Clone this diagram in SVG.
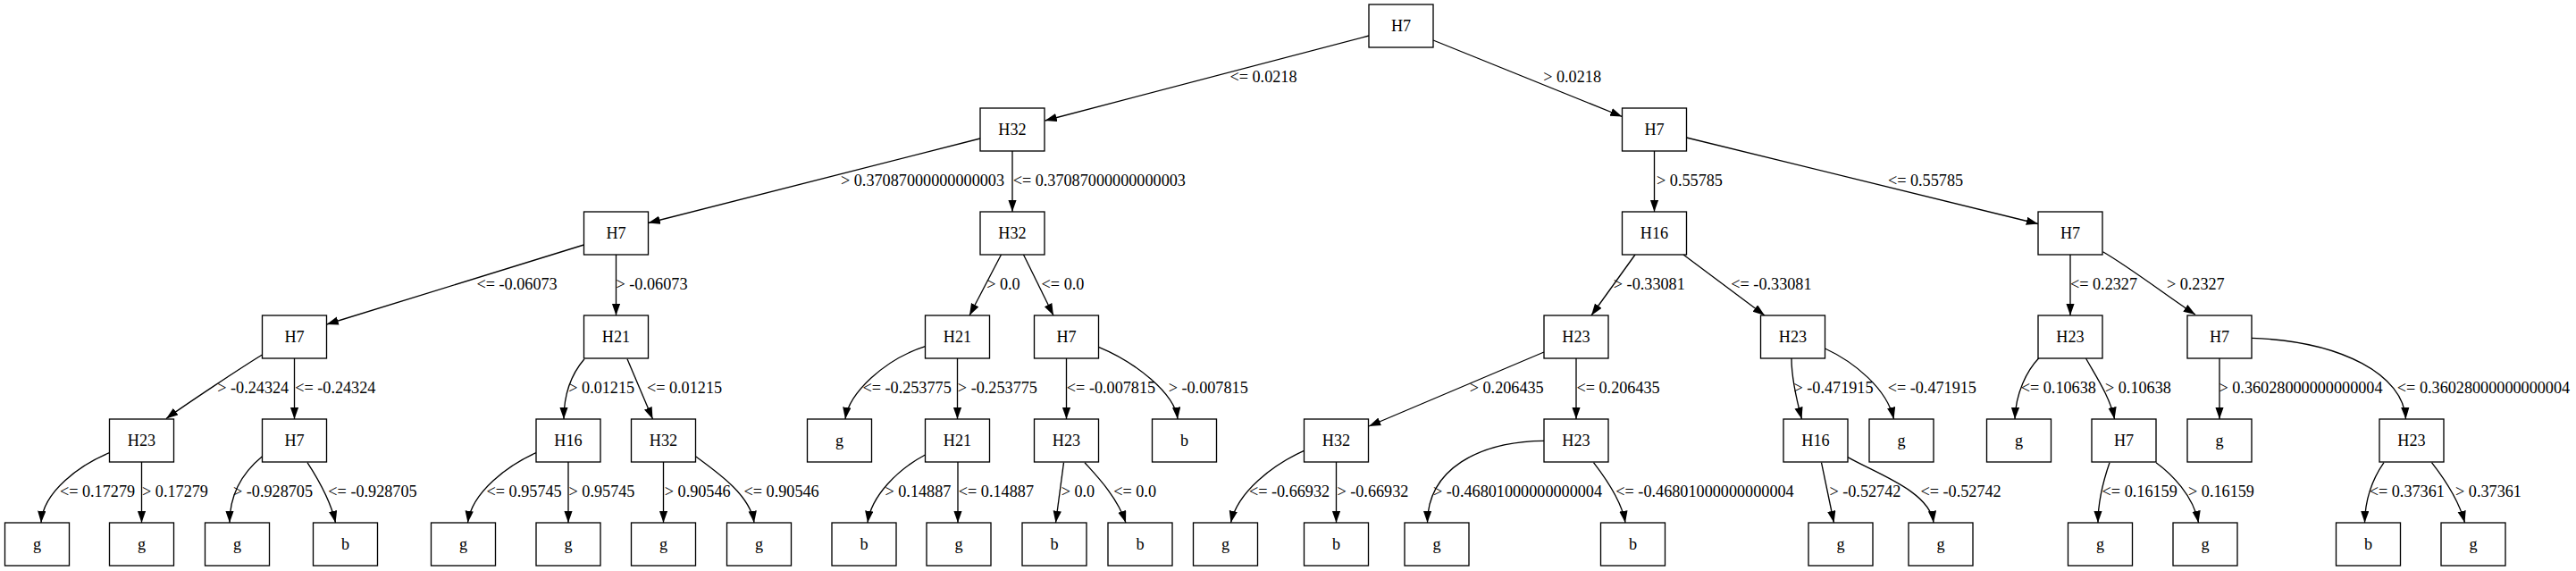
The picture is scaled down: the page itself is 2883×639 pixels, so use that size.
<svg xmlns="http://www.w3.org/2000/svg" width="2883" height="639" viewBox="0 0 2883 639">
<style>
text{font-family:"Liberation Serif","Times New Roman",serif;font-size:18.2px;fill:#000;text-anchor:middle}
.n rect{fill:#fff;stroke:#000;stroke-width:1.33}
.e path{fill:none;stroke:#000;stroke-width:1.33;marker-end:url(#a)}
</style>
<defs>
<marker id="a" markerUnits="userSpaceOnUse" markerWidth="14" markerHeight="10" refX="13.3" refY="4.67" orient="auto" viewBox="0 0 14 10"><path d="M0,0 L13.3,4.67 L0,9.33 z" fill="#000"/></marker>
</defs>
<rect x="0" y="0" width="2883" height="639" fill="#fff"/>
<g id="connectors" class="e">
<g><path d="M1532,40 L1169.5,135"/><text x="1414" y="92">&lt;= 0.0218</text></g>
<g><path d="M1604,45 L1815.5,130.5"/><text x="1759.6" y="92">&gt; 0.0218</text></g>
<g><path d="M1097,155 L725.5,249.5"/><text x="1032.5" y="208">&gt; 0.37087000000000003</text></g>
<g><path d="M1133,169 L1133,237"/><text x="1230.3" y="208">&lt;= 0.37087000000000003</text></g>
<g><path d="M1851.5,169 L1851.5,237"/><text x="1891" y="208">&gt; 0.55785</text></g>
<g><path d="M1887.5,154 L2281,250.5"/><text x="2155" y="208">&lt;= 0.55785</text></g>
<g><path d="M653.5,274 L365.5,363"/><text x="578.6" y="324">&lt;= -0.06073</text></g>
<g><path d="M689.5,285 L689.5,353"/><text x="729.5" y="324">&gt; -0.06073</text></g>
<g><path d="M1120.5,285 L1085,353"/><text x="1122.9" y="324">&gt; 0.0</text></g>
<g><path d="M1145.5,285 L1179,353"/><text x="1189.5" y="324">&lt;= 0.0</text></g>
<g><path d="M1830,285 L1781,353"/><text x="1845.8" y="324">&gt; -0.33081</text></g>
<g><path d="M1884,285 L1975,353"/><text x="1982.4" y="324">&lt;= -0.33081</text></g>
<g><path d="M2317,285 L2317,353"/><text x="2354.5" y="324">&lt;= 0.2327</text></g>
<g><path d="M2353.5,281.7 C2385,300 2432,336 2457,352"/><text x="2457.3" y="324">&gt; 0.2327</text></g>
<g><path d="M293.5,397 C272,410 205,454.5 186,468.5"/><text x="283.2" y="440">&gt; -0.24324</text></g>
<g><path d="M329.5,401 L329.5,469"/><text x="375.3" y="440">&lt;= -0.24324</text></g>
<g><path d="M654,401.7 C640,418 631,440 631,469"/><text x="673.2" y="440">&gt; 0.01215</text></g>
<g><path d="M702,401.7 L730.5,469"/><text x="766" y="440">&lt;= 0.01215</text></g>
<g><path d="M1035.5,387.7 C990,402 950,440 946,469"/><text x="1015.1" y="440">&lt;= -0.253775</text></g>
<g><path d="M1071.5,401 L1071.5,469"/><text x="1116.4" y="440">&gt; -0.253775</text></g>
<g><path d="M1193.5,401 L1193.5,469"/><text x="1243.5" y="440">&lt;= -0.007815</text></g>
<g><path d="M1229.5,388.3 C1270,405 1315,440 1318,469"/><text x="1352.2" y="440">&gt; -0.007815</text></g>
<g><path d="M1728,394 L1532,477"/><text x="1686.2" y="440">&gt; 0.206435</text></g>
<g><path d="M1764,401 L1764,469"/><text x="1811.1" y="440">&lt;= 0.206435</text></g>
<g><path d="M2005,401 C2005,420 2010,445 2016.5,469"/><text x="2052" y="440">&gt; -0.471915</text></g>
<g><path d="M2042.5,390 C2075,405 2112,435 2119.5,469"/><text x="2162.3" y="440">&lt;= -0.471915</text></g>
<g><path d="M2282.5,400 C2268,415 2256,440 2255,469"/><text x="2303.8" y="440">&lt;= 0.10638</text></g>
<g><path d="M2334.5,401 C2345,420 2362,445 2366.5,469"/><text x="2392.9" y="440">&gt; 0.10638</text></g>
<g><path d="M2484,401 L2484,469"/><text x="2575" y="440">&gt; 0.36028000000000004</text></g>
<g><path d="M2520,378.3 C2622,382 2690,420 2692.5,469"/><text x="2779.5" y="440">&lt;= 0.36028000000000004</text></g>
<g><path d="M122.5,506.7 C90,520 48,550 46,585"/><text x="109" y="556">&lt;= 0.17279</text></g>
<g><path d="M158.5,517 L158.5,585"/><text x="196" y="556">&gt; 0.17279</text></g>
<g><path d="M293.5,510.7 C270,530 257,555 257,585"/><text x="305.5" y="556">&gt; -0.928705</text></g>
<g><path d="M344,517.7 C352,530 370,560 375.5,585"/><text x="417" y="556">&lt;= -0.928705</text></g>
<g><path d="M600,506.7 C570,520 528,550 523.5,585"/><text x="586.6" y="556">&lt;= 0.95745</text></g>
<g><path d="M636,517 L636,585"/><text x="673.5" y="556">&gt; 0.95745</text></g>
<g><path d="M742.5,517 L742.5,585"/><text x="780.7" y="556">&gt; 0.90546</text></g>
<g><path d="M778.5,510.7 C805,530 840,555 844,585"/><text x="874.6" y="556">&lt;= 0.90546</text></g>
<g><path d="M1035.5,509 C1005,525 975,555 971,585"/><text x="1027.4" y="556">&gt; 0.14887</text></g>
<g><path d="M1072,517 L1072,585"/><text x="1114.9" y="556">&lt;= 0.14887</text></g>
<g><path d="M1190.5,517.7 L1181.5,585"/><text x="1206.4" y="556">&gt; 0.0</text></g>
<g><path d="M1214,517.7 C1225,530 1250,555 1260,585"/><text x="1270.1" y="556">&lt;= 0.0</text></g>
<g><path d="M1459.5,504.3 C1425,520 1385,550 1377.5,585"/><text x="1443" y="556">&lt;= -0.66932</text></g>
<g><path d="M1495.5,517 L1495.5,585"/><text x="1536.4" y="556">&gt; -0.66932</text></g>
<g><path d="M1728,493.3 C1655,494 1598,525 1597.5,585"/><text x="1698.5" y="556">&gt; -0.46801000000000004</text></g>
<g><path d="M1783.5,517.7 C1793,530 1815,560 1819,585"/><text x="1908" y="556">&lt;= -0.46801000000000004</text></g>
<g><path d="M2038.5,517.7 L2052.5,585"/><text x="2087.4" y="556">&gt; -0.52742</text></g>
<g><path d="M2068,511.7 C2100,530 2160,550 2164,585"/><text x="2194.6" y="556">&lt;= -0.52742</text></g>
<g><path d="M2361,517.7 C2355,535 2348,560 2348,585"/><text x="2394.7" y="556">&lt;= 0.16159</text></g>
<g><path d="M2413,517.7 C2430,530 2455,555 2460.5,585"/><text x="2486" y="556">&gt; 0.16159</text></g>
<g><path d="M2668,517.7 C2656,535 2647,558 2646.5,585"/><text x="2693.8" y="556">&lt;= 0.37361</text></g>
<g><path d="M2721.5,517.7 C2735,535 2752,560 2758.5,585"/><text x="2785" y="556">&gt; 0.37361</text></g>
</g>
<g class="n">
<g id="n0"><rect x="1532" y="5" width="72" height="48"/><text x="1568" y="35">H7</text></g>
<g id="n1"><rect x="1097" y="121" width="72" height="48"/><text x="1133" y="151">H32</text></g>
<g id="n2"><rect x="1815.5" y="121" width="72" height="48"/><text x="1851.5" y="151">H7</text></g>
<g id="n3"><rect x="653.5" y="237" width="72" height="48"/><text x="689.5" y="267">H7</text></g>
<g id="n4"><rect x="1097" y="237" width="72" height="48"/><text x="1133" y="267">H32</text></g>
<g id="n5"><rect x="1815.5" y="237" width="72" height="48"/><text x="1851.5" y="267">H16</text></g>
<g id="n6"><rect x="2281" y="237" width="72" height="48"/><text x="2317" y="267">H7</text></g>
<g id="n7"><rect x="293.5" y="353" width="72" height="48"/><text x="329.5" y="383">H7</text></g>
<g id="n8"><rect x="653.5" y="353" width="72" height="48"/><text x="689.5" y="383">H21</text></g>
<g id="n9"><rect x="1035.5" y="353" width="72" height="48"/><text x="1071.5" y="383">H21</text></g>
<g id="n10"><rect x="1157.5" y="353" width="72" height="48"/><text x="1193.5" y="383">H7</text></g>
<g id="n11"><rect x="1728" y="353" width="72" height="48"/><text x="1764" y="383">H23</text></g>
<g id="n12"><rect x="1970.5" y="353" width="72" height="48"/><text x="2006.5" y="383">H23</text></g>
<g id="n13"><rect x="2281" y="353" width="72" height="48"/><text x="2317" y="383">H23</text></g>
<g id="n14"><rect x="2448" y="353" width="72" height="48"/><text x="2484" y="383">H7</text></g>
<g id="n15"><rect x="122.5" y="469" width="72" height="48"/><text x="158.5" y="499">H23</text></g>
<g id="n16"><rect x="293.5" y="469" width="72" height="48"/><text x="329.5" y="499">H7</text></g>
<g id="n17"><rect x="600" y="469" width="72" height="48"/><text x="636" y="499">H16</text></g>
<g id="n18"><rect x="706.5" y="469" width="72" height="48"/><text x="742.5" y="499">H32</text></g>
<g id="n19"><rect x="903.5" y="469" width="72" height="48"/><text x="939.5" y="499">g</text></g>
<g id="n20"><rect x="1035.5" y="469" width="72" height="48"/><text x="1071.5" y="499">H21</text></g>
<g id="n21"><rect x="1157.5" y="469" width="72" height="48"/><text x="1193.5" y="499">H23</text></g>
<g id="n22"><rect x="1289.5" y="469" width="72" height="48"/><text x="1325.5" y="499">b</text></g>
<g id="n23"><rect x="1459.5" y="469" width="72" height="48"/><text x="1495.5" y="499">H32</text></g>
<g id="n24"><rect x="1728" y="469" width="72" height="48"/><text x="1764" y="499">H23</text></g>
<g id="n25"><rect x="1996" y="469" width="72" height="48"/><text x="2032" y="499">H16</text></g>
<g id="n26"><rect x="2092" y="469" width="72" height="48"/><text x="2128" y="499">g</text></g>
<g id="n27"><rect x="2223.5" y="469" width="72" height="48"/><text x="2259.5" y="499">g</text></g>
<g id="n28"><rect x="2341" y="469" width="72" height="48"/><text x="2377" y="499">H7</text></g>
<g id="n29"><rect x="2448" y="469" width="72" height="48"/><text x="2484" y="499">g</text></g>
<g id="n30"><rect x="2663" y="469" width="72" height="48"/><text x="2699" y="499">H23</text></g>
<g id="n31"><rect x="5.5" y="585" width="72" height="48"/><text x="41.5" y="615">g</text></g>
<g id="n32"><rect x="122.5" y="585" width="72" height="48"/><text x="158.5" y="615">g</text></g>
<g id="n33"><rect x="229.5" y="585" width="72" height="48"/><text x="265.5" y="615">g</text></g>
<g id="n34"><rect x="350.5" y="585" width="72" height="48"/><text x="386.5" y="615">b</text></g>
<g id="n35"><rect x="482.5" y="585" width="72" height="48"/><text x="518.5" y="615">g</text></g>
<g id="n36"><rect x="600" y="585" width="72" height="48"/><text x="636" y="615">g</text></g>
<g id="n37"><rect x="706.5" y="585" width="72" height="48"/><text x="742.5" y="615">g</text></g>
<g id="n38"><rect x="813.5" y="585" width="72" height="48"/><text x="849.5" y="615">g</text></g>
<g id="n39"><rect x="931" y="585" width="72" height="48"/><text x="967" y="615">b</text></g>
<g id="n40"><rect x="1037" y="585" width="72" height="48"/><text x="1073" y="615">g</text></g>
<g id="n41"><rect x="1144" y="585" width="72" height="48"/><text x="1180" y="615">b</text></g>
<g id="n42"><rect x="1240" y="585" width="72" height="48"/><text x="1276" y="615">b</text></g>
<g id="n43"><rect x="1335.5" y="585" width="72" height="48"/><text x="1371.5" y="615">g</text></g>
<g id="n44"><rect x="1459.5" y="585" width="72" height="48"/><text x="1495.5" y="615">b</text></g>
<g id="n45"><rect x="1572" y="585" width="72" height="48"/><text x="1608" y="615">g</text></g>
<g id="n46"><rect x="1791.5" y="585" width="72" height="48"/><text x="1827.5" y="615">b</text></g>
<g id="n47"><rect x="2024" y="585" width="72" height="48"/><text x="2060" y="615">g</text></g>
<g id="n48"><rect x="2136" y="585" width="72" height="48"/><text x="2172" y="615">g</text></g>
<g id="n49"><rect x="2314.5" y="585" width="72" height="48"/><text x="2350.5" y="615">g</text></g>
<g id="n50"><rect x="2432" y="585" width="72" height="48"/><text x="2468" y="615">g</text></g>
<g id="n51"><rect x="2614.5" y="585" width="72" height="48"/><text x="2650.5" y="615">b</text></g>
<g id="n52"><rect x="2732" y="585" width="72" height="48"/><text x="2768" y="615">g</text></g>
</g>
</svg>
